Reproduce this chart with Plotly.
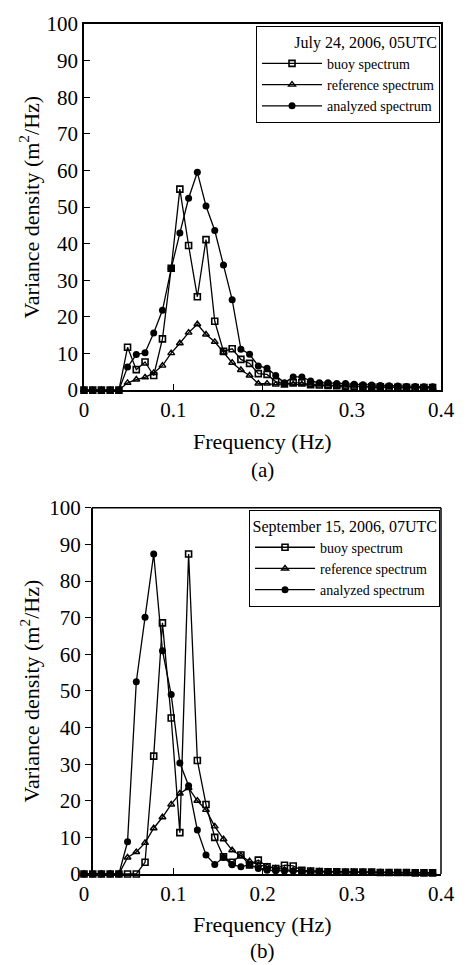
import plotly.graph_objects as go

# Frequencies (Hz)
freq = [0.0, 0.0098, 0.0195, 0.0293, 0.0391, 0.0488, 0.0586, 0.0684, 0.0781, 0.0879,
        0.0977, 0.1074, 0.1172, 0.1270, 0.1367, 0.1465, 0.1563, 0.1660, 0.1758, 0.1855,
        0.1953, 0.2051, 0.2148, 0.2246, 0.2344, 0.2441, 0.2539, 0.2637, 0.2734, 0.2832,
        0.2930, 0.3027, 0.3125, 0.3223, 0.3320, 0.3418, 0.3516, 0.3613, 0.3711, 0.3809,
        0.3906]

# (a) July 24, 2006, 05UTC
buoy_a = [0, 0, 0, 0, 0, 11.7, 5.6, 7.7, 4.0, 14.0,
          33.3, 54.9, 39.5, 25.5, 41.1, 18.8, 10.6, 11.3, 8.4, 7.3,
          4.5, 4.3, 2.3, 1.7, 2.0, 2.0, 1.5, 1.4, 1.3, 1.2,
          1.1, 1.0, 1.0, 0.9, 0.9, 0.8, 0.8, 0.8, 0.7, 0.7, 0.7]
ref_a = [0, 0, 0, 0, 0, 2.0, 2.9, 3.5, 4.7, 6.7,
         10.1, 12.8, 15.7, 18.0, 15.2, 13.2, 10.3, 7.5, 5.5, 4.0,
         1.8, 1.8, 1.5, 1.8, 1.6, 1.6, 1.4, 1.3, 1.2, 1.1,
         1.0, 1.0, 0.9, 0.9, 0.8, 0.8, 0.7, 0.7, 0.7, 0.6, 0.6]
ana_a = [0, 0, 0, 0, 0, 6.3, 9.7, 10.2, 15.6, 21.8,
         33.2, 42.9, 52.4, 59.5, 50.3, 43.6, 34.2, 24.7, 11.2, 9.8,
         6.6, 6.0, 4.0, 2.0, 3.6, 3.6, 2.5, 2.0, 2.0, 1.8,
         1.8, 1.6, 1.5, 1.4, 1.3, 1.2, 1.1, 1.0, 1.0, 0.9, 0.9]

# (b) September 15, 2006, 07UTC
buoy_b = [0, 0, 0, 0, 0, 0, 0, 3.2, 32.2, 68.6,
          42.6, 11.3, 87.4, 31.0, 19.0, 10.0, 4.7, 3.2, 5.2, 2.5,
          3.8, 2.0, 1.5, 2.4, 2.2, 1.0, 0.8, 0.7, 0.6, 0.6,
          0.5, 0.5, 0.5, 0.5, 0.4, 0.4, 0.4, 0.4, 0.3, 0.3, 0.3]
ref_b = [0, 0, 0, 0, 0, 4.5, 6.0, 8.5, 12.5, 15.5,
         19.0, 22.0, 23.5, 20.0, 17.5, 13.0, 9.5, 6.5, 5.0, 3.5,
         2.5, 2.0, 1.5, 1.2, 1.0, 0.9, 0.8, 0.7, 0.6, 0.6,
         0.5, 0.5, 0.5, 0.4, 0.4, 0.4, 0.4, 0.3, 0.3, 0.3, 0.3]
ana_b = [0, 0, 0, 0, 0, 8.8, 52.5, 70.1, 87.4, 61.0,
         49.0, 30.3, 24.1, 12.0, 5.2, 2.6, 4.5, 2.5, 2.0, 2.5,
         1.5, 1.0, 0.9, 0.8, 0.8, 0.7, 0.7, 0.6, 0.6, 0.6,
         0.5, 0.5, 0.5, 0.5, 0.5, 0.4, 0.4, 0.4, 0.4, 0.4, 0.4]

names = ["buoy spectrum", "reference spectrum", "analyzed spectrum"]
titles = ["July 24, 2006, 05UTC", "September 15, 2006, 07UTC"]
panel_labels = ["(a)", "(b)"]
x_ticks = [0, 0.1, 0.2, 0.3, 0.4]
x_ticklabels = ["0", "0.1", "0.2", "0.3", "0.4"]
y_ticks = list(range(0, 101, 10))

FONT = "Liberation Serif"
W, H = 467, 965
# target pixel positions of the plot areas
PL, PR = 84, 451
TOP_T, TOP_B = 22, 389
BOT_T, BOT_B = 507, 874
BOT_AXIS_X = 92  # the lower panel's y-axis line sits slightly right of f = 0
ML, MT, MR, MB = PL, TOP_T, W - PR, H - BOT_B
plot_h = H - MT - MB
plot_w = W - ML - MR


def py(page_y):
    return (BOT_B - page_y) / plot_h


def px(page_x):
    return (page_x - PL) / plot_w


fig = go.Figure()
styles = [
    dict(symbol="square-open", size=6, line=dict(width=1.6, color="black"), color="black"),
    dict(symbol="triangle-up-open", size=6, line=dict(width=1.4, color="black"), color="black"),
    dict(symbol="circle", size=7, line=dict(width=0, color="black"), color="black"),
]
panels = [(buoy_a, ref_a, ana_a), (buoy_b, ref_b, ana_b)]
for p, series in enumerate(panels):
    xa = "x" if p == 0 else "x2"
    ya = "y" if p == 0 else "y2"
    lg = "legend" if p == 0 else "legend2"
    for s, vals in enumerate(series):
        fig.add_trace(go.Scatter(
            x=freq, y=vals, mode="lines+markers", name=names[s],
            xaxis=xa, yaxis=ya, legend=lg,
            line=dict(color="black", width=1.3),
            marker=styles[s], cliponaxis=False,
        ))

axis_common = dict(
    showline=True, linecolor="black", linewidth=1.5,
    showgrid=False, zeroline=False,
    tickfont=dict(family=FONT, size=21, color="black"),
    ticklen=6, tickwidth=1.2, tickcolor="black",
)
legend_common = dict(
    xanchor="right", yanchor="top",
    bgcolor="white", bordercolor="black", borderwidth=1,
    font=dict(family=FONT, size=14, color="black"),
    tracegroupgap=0, itemwidth=60,
)
fig.update_layout(
    width=W, height=H,
    margin=dict(l=ML, r=MR, t=MT, b=MB),
    plot_bgcolor="white", paper_bgcolor="white",
    font=dict(family=FONT, color="black"),
    showlegend=True,
    xaxis=dict(domain=[0, 1], range=[0, 0.4], tickvals=x_ticks, ticktext=x_ticklabels,
               ticks="inside", anchor="y", mirror=True, **axis_common),
    yaxis=dict(domain=[py(TOP_B), 1], range=[0, 100], tickvals=y_ticks,
               ticks="inside", anchor="x", mirror=True, **axis_common),
    xaxis2=dict(domain=[0, 1], range=[0, 0.4], tickvals=x_ticks, ticktext=x_ticklabels,
                ticks="inside", anchor="y2", mirror=False, **axis_common),
    yaxis2=dict(domain=[0, py(BOT_T)], range=[0, 100], tickvals=y_ticks,
                ticks="outside", anchor="free", position=px(BOT_AXIS_X), mirror=False,
                **axis_common),
    legend=dict(
        x=px(450), y=py(24),
        title=dict(text=titles[0], font=dict(family=FONT, size=16, color="black"), side="top right"),
        **legend_common,
    ),
    legend2=dict(
        x=px(450), y=py(509),
        title=dict(text=titles[1], font=dict(family=FONT, size=16, color="black"), side="top right"),
        **legend_common,
    ),
)

# frame of the lower panel (top and right edges)
frame = dict(type="line", xref="paper", yref="paper", line=dict(color="black", width=1.5))
fig.add_shape(**frame, x0=px(BOT_AXIS_X), x1=1, y0=py(BOT_T), y1=py(BOT_T))
fig.add_shape(**frame, x0=1, x1=1, y0=0, y1=py(BOT_T))

ytitle = "Variance density (m<sup>2</sup>/Hz)"
ann = []
for p in range(2):
    y_center = py((TOP_T + TOP_B) / 2) if p == 0 else py((BOT_T + BOT_B) / 2)
    y_freq = py(440) if p == 0 else py(925)
    y_lab = py(469) if p == 0 else py(951)
    ann.append(dict(text=ytitle, x=px(28), y=y_center, xref="paper", yref="paper",
                    textangle=-90, showarrow=False, font=dict(family=FONT, size=22, color="black"),
                    xanchor="center", yanchor="middle"))
    ann.append(dict(text="Frequency (Hz)", x=0.5, y=y_freq, xref="paper", yref="paper",
                    showarrow=False, font=dict(family=FONT, size=22, color="black"),
                    xanchor="center", yanchor="middle"))
    ann.append(dict(text=panel_labels[p], x=0.5, y=y_lab, xref="paper", yref="paper",
                    showarrow=False, font=dict(family=FONT, size=21, color="black"),
                    xanchor="center", yanchor="middle"))
fig.update_layout(annotations=ann)

fig.write_html("out.html", config={"displayModeBar": False},
               post_script="document.body.style.margin='0';document.body.style.overflow='hidden';")
